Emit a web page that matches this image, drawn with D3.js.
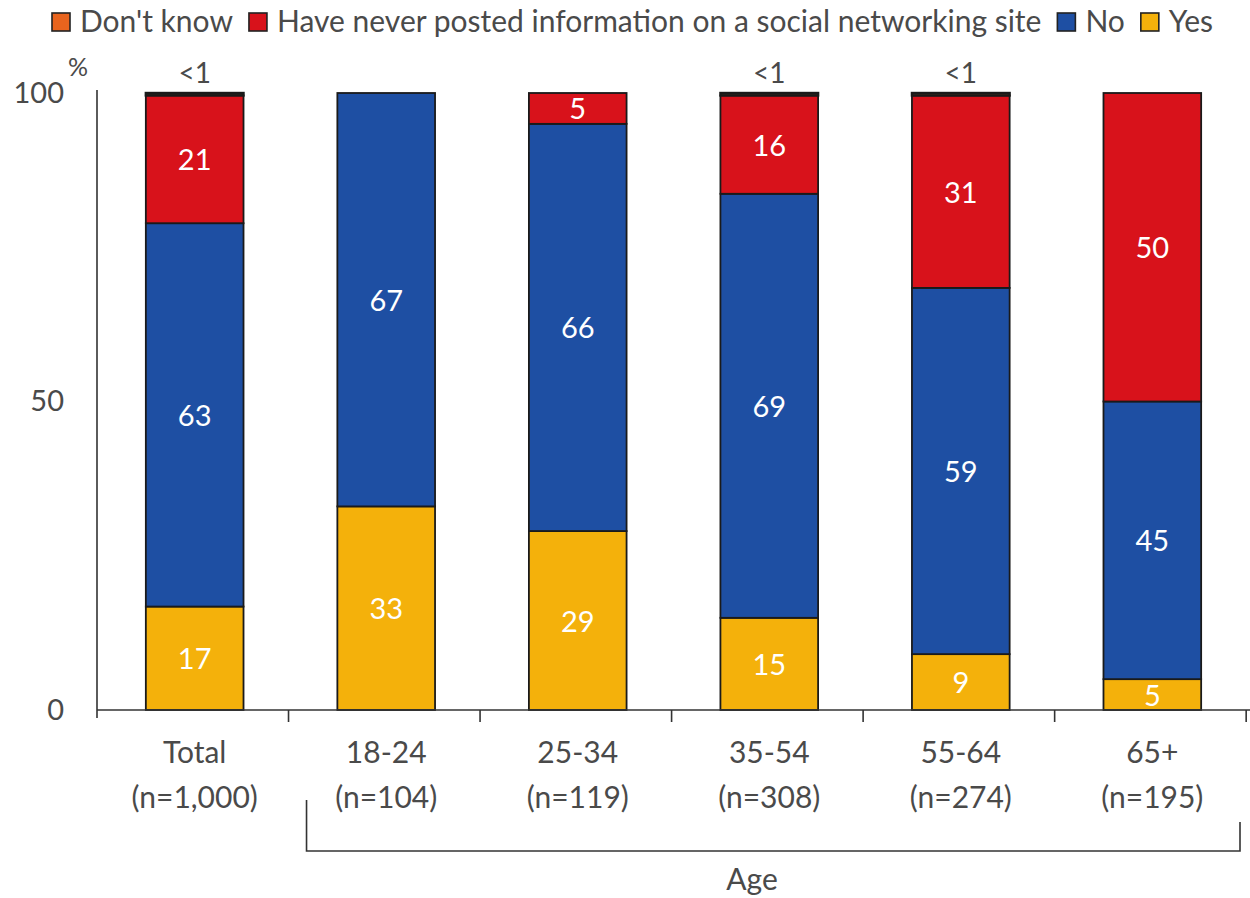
<!DOCTYPE html>
<html>
<head>
<meta charset="utf-8">
<script src="https://cdn.jsdelivr.net/npm/d3@7"></script>
<style>
  html, body { margin: 0; padding: 0; background: #fff; }
  svg { display: block; }
  text { font-family: Lato, "Open Sans", sans-serif; }
</style>
</head>
<body>
<svg id="chart" width="1250" height="898"></svg>
<script>
// ---- data ----
const categories = ["Total", "18-24", "25-34", "35-54", "55-64", "65+"];
const sampleSizes = ["(n=1,000)", "(n=104)", "(n=119)", "(n=308)", "(n=274)", "(n=195)"];
const yesValues = [17, 33, 29, 15, 9, 5];
const noValues = [63, 67, 66, 69, 59, 45];
const neverPostedValues = [21, 0, 5, 16, 31, 50];
const dontKnowValues = [0.4, 0, 0, 0.4, 0.4, 0]; // shown as "<1"
const seriesNames = ["Don't know", "Have never posted information on a social networking site", "No", "Yes"];
const yTickValues = [0, 50, 100];
const groupLabel = "Age";

// ---- styling ----
const colors = {
  "Yes": "#F4B10B",
  "No": "#1E4FA3",
  "Have never posted information on a social networking site": "#D8121B",
  "Don't know": "#E8641E"
};
const textGrey = "#4a4a4a";

const rows = categories.map((c, i) => ({
  category: c,
  "Yes": yesValues[i],
  "No": noValues[i],
  "Have never posted information on a social networking site": neverPostedValues[i],
  "Don't know": dontKnowValues[i]
}));

const stackKeys = ["Yes", "No", "Have never posted information on a social networking site", "Don't know"];
const stacked = d3.stack().keys(stackKeys).offset(d3.stackOffsetExpand)(rows);

const svg = d3.select("#chart");
const plot = { left: 97, right: 1250, top: 93, bottom: 710 };

const x = d3.scaleBand().domain(categories)
  .range([plot.left, plot.right]).paddingInner(0.49).paddingOuter(0.255);
const y = d3.scaleLinear().domain([0, 100]).range([plot.bottom, plot.top]);

// ---- bars ----
const layer = svg.append("g").selectAll("g").data(stacked).join("g")
  .attr("fill", d => colors[d.key]);

layer.selectAll("rect").data(d => d.map(s => ({ key: d.key, s: s })))
  .join("rect")
  .filter(d => d.s.data[d.key] > 0)
  .attr("x", d => x(d.s.data.category))
  .attr("width", x.bandwidth())
  .attr("y", d => y(d.s[1] * 100))
  .attr("height", d => y(d.s[0] * 100) - y(d.s[1] * 100))
  .attr("stroke", "#1a1a1a")
  .attr("stroke-width", d => d.key === "Don't know" ? 2.4 : 1.8);

// ---- segment labels ----
const labelKeys = ["Yes", "No", "Have never posted information on a social networking site"];
stacked.filter(d => labelKeys.includes(d.key)).forEach(series => {
  svg.append("g").selectAll("text").data(series.filter(s => s.data[series.key] > 0))
    .join("text")
    .attr("x", s => x(s.data.category) + x.bandwidth() / 2)
    .attr("y", s => y((s[0] + s[1]) / 2 * 100))
    .attr("dy", "0.38em")
    .attr("text-anchor", "middle")
    .attr("fill", "#fff")
    .attr("font-size", 29)
    .text(s => d3.format("d")(s.data[series.key]));
});

// "<1" labels above the bars
const dkSeries = stacked.find(d => d.key === "Don't know");
svg.append("g").selectAll("text").data(dkSeries.filter(s => s.data["Don't know"] > 0 && s.data["Don't know"] < 1))
  .join("text")
  .attr("x", s => x(s.data.category) + x.bandwidth() / 2)
  .attr("y", s => y(s[1] * 100) - 10)
  .attr("text-anchor", "middle")
  .attr("fill", textGrey)
  .attr("font-size", 28)
  .text("<1");

// ---- y axis ----
const yAxis = svg.append("g").attr("transform", `translate(${plot.left},0)`)
  .call(d3.axisLeft(y).tickValues(yTickValues).tickSize(0).tickPadding(33).tickFormat(d3.format("d")));
yAxis.select(".domain").attr("d", `M0,${plot.top - 3}V${plot.bottom + 8}`).attr("stroke", "#333").attr("stroke-width", 1.6);
yAxis.selectAll("text").attr("font-size", 29).attr("fill", textGrey).attr("font-family", "Lato, sans-serif");

svg.append("text").attr("x", 78).attr("y", 76).attr("text-anchor", "middle")
  .attr("fill", textGrey).attr("font-size", 25).text("%");

// ---- x axis ----
const step = x.step();
const boundaries = d3.range(categories.length + 1).map(i => plot.left + i * step);
const xAxisG = svg.append("g");
xAxisG.append("line").attr("x1", plot.left).attr("x2", plot.right)
  .attr("y1", plot.bottom).attr("y2", plot.bottom)
  .attr("stroke", "#333").attr("stroke-width", 1.6);
xAxisG.selectAll("line.tick").data(boundaries.slice(1)).join("line")
  .attr("class", "tick")
  .attr("x1", d => d).attr("x2", d => d)
  .attr("y1", plot.bottom).attr("y2", plot.bottom + 12)
  .attr("stroke", "#333").attr("stroke-width", 1.6);

const catLabels = svg.append("g").selectAll("text").data(categories).join("text")
  .attr("x", d => x(d) + x.bandwidth() / 2)
  .attr("text-anchor", "middle")
  .attr("fill", textGrey)
  .attr("font-size", 30);
catLabels.append("tspan").attr("x", d => x(d) + x.bandwidth() / 2).attr("y", 763).text(d => d);
catLabels.append("tspan").attr("x", d => x(d) + x.bandwidth() / 2).attr("y", 808)
  .text((d, i) => sampleSizes[i]);

// ---- age bracket ----
const bx0 = boundaries[1] + 18, bx1 = plot.right - 10;
svg.append("path")
  .attr("d", `M${bx0},800V851H${bx1}V822`)
  .attr("fill", "none").attr("stroke", "#333").attr("stroke-width", 1.6);
svg.append("text").attr("x", 752).attr("y", 890)
  .attr("text-anchor", "middle").attr("fill", textGrey).attr("font-size", 30).text(groupLabel);

// ---- legend ----
const legend = svg.append("g").attr("transform", "translate(52,0)");
let lx = 0;
seriesNames.forEach(name => {
  const g = legend.append("g").attr("transform", `translate(${lx},0)`);
  g.append("rect").attr("x", 0).attr("y", 13).attr("width", 18).attr("height", 18)
    .attr("fill", colors[name]).attr("stroke", "#222").attr("stroke-width", 1.6);
  const t = g.append("text").attr("x", 28).attr("y", 32)
    .attr("fill", textGrey).attr("font-size", 30).text(name);
  lx += 28 + t.node().getComputedTextLength() + 16;
});
</script>
</body>
</html>
